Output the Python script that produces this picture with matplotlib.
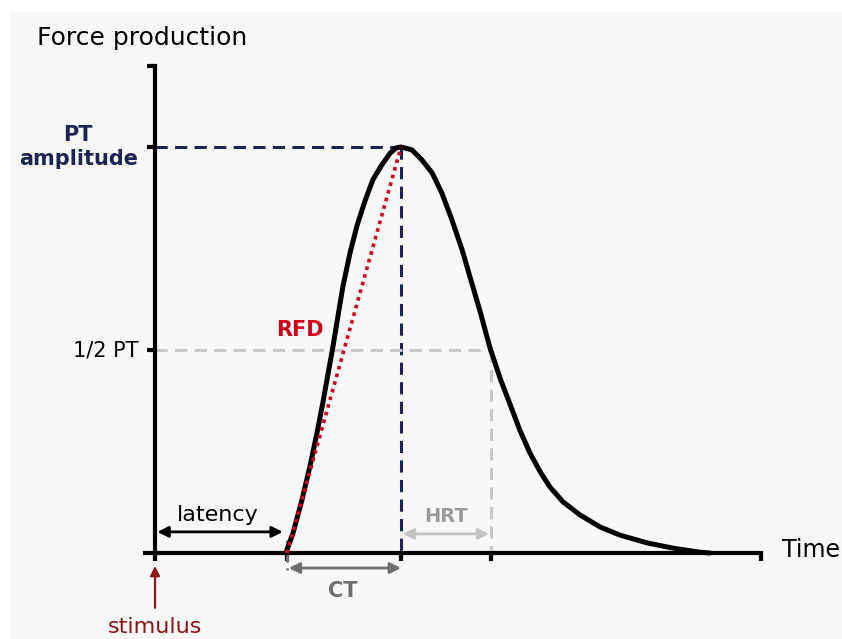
import matplotlib.pyplot as plt
from matplotlib.patches import Rectangle

# twitch force curve (time in ms, force in % of PT)
time_ms = [21.8, 23.0, 24.5, 25.8, 27.0, 28.0, 28.8, 29.7, 30.5, 31.3, 32.5,
           33.7, 35.0, 36.3, 37.8, 39.2, 40.2, 41.0, 42.8, 44.5, 46.2, 47.8,
           49.5, 51.2, 52.5, 54.2, 55.8, 57.5, 59.2, 60.8, 62.5, 64.2, 65.8,
           68.0, 70.8, 74.2, 77.5, 82.0, 86.3, 90.8, 92.5]
force_pct = [0, 4.9, 13.1, 21.2, 29.6, 37.2, 43.8, 51.2, 58.4, 65.5, 73.9,
             80.8, 86.7, 91.9, 95.6, 98.5, 99.8, 100, 99.3, 96.8, 93.6, 88.7,
             82.0, 74.6, 68.0, 59.4, 50.7, 43.1, 36.5, 30.3, 24.6, 20.0, 16.3,
             12.6, 9.4, 6.4, 4.4, 2.5, 1.2, 0.2, 0]

onset = 22
peak_t = 41
half_relax_t = 56
peak = 100
half = 50
t_end = 101
y_top = 120

NAVY = '#1c2453'
RED = '#d0021b'
DARKRED = '#8b1414'

fig = plt.figure(figsize=(8.42, 6.39), dpi=100)
fig.patch.set_facecolor('white')
fig.patches.append(Rectangle((10 / 842, 0), 1, 1 - 12 / 639, transform=fig.transFigure,
                             facecolor='#f8f8f8', edgecolor='none', zorder=-10))
ax = fig.add_axes([0, 0, 1, 1])
ax.set_facecolor('none')
ax.set_xlim(-155 / 6, 687 / 6)
ax.set_ylim(-86 / 4.06, 553 / 4.06)

for s in ['top', 'right']:
    ax.spines[s].set_visible(False)
ax.spines['left'].set_position(('data', 0))
ax.spines['bottom'].set_position(('data', 0))
ax.spines['left'].set_bounds(0, y_top)
ax.spines['bottom'].set_bounds(-1.7, t_end)
for s in ['left', 'bottom']:
    ax.spines[s].set_linewidth(3)
ax.set_xticks([0, onset, peak_t, half_relax_t, t_end])
ax.set_yticks([half, peak, y_top])
ax.set_xticklabels([])
ax.set_yticklabels([])
ax.tick_params(length=6, width=3, color='black')

# reference lines
ax.plot([0, peak_t], [peak, peak], color=NAVY, lw=2.2, dashes=(4, 2.4), zorder=2)
ax.plot([peak_t, peak_t], [peak, 0], color=NAVY, lw=2.2, dashes=(4, 2.4), zorder=2)
ax.plot([0, half_relax_t], [half, half], color='#c8c8c8', lw=2.2, dashes=(4, 2.4), zorder=2)
ax.plot([half_relax_t, half_relax_t], [half, 0], color='#c8c8c8', lw=2.2, dashes=(4, 2.4), zorder=2)
ax.plot([onset, onset], [3.2, -4.2], color='#777777', lw=2, dashes=(3, 2), zorder=2)

# RFD slope
ax.plot([onset, peak_t], [0, peak], color=RED, lw=2.6, linestyle=(0, (1, 1.2)), zorder=4)

# force curve
ax.plot(time_ms, force_pct, color='black', lw=3.6, solid_capstyle='round',
        solid_joinstyle='round', zorder=3)

# interval arrows
def span(x0, x1, y, color):
    ax.annotate('', xy=(x1, y), xytext=(x0, y),
                arrowprops=dict(arrowstyle='<|-|>', color=color, lw=2,
                                mutation_scale=16, shrinkA=0, shrinkB=0))

span(0.4, onset - 0.7, 5.2, 'black')
span(onset + 0.3, peak_t, -3.7, '#6e6e6e')
span(peak_t + 0.3, half_relax_t - 0.3, 4.7, '#c4c4c4')

ax.annotate('', xy=(0, -3.2), xytext=(0, -13.5),
            arrowprops=dict(arrowstyle='-|>', color=DARKRED, lw=1.6,
                            mutation_scale=14, shrinkA=0, shrinkB=0))

# labels
ax.text(-19.7, 126.8, 'Force production', fontsize=18, ha='left', va='center')
ax.text(104.5, 0.7, 'Time', fontsize=17, ha='left', va='center')
ax.text(-2.8, half, '1/2 PT', fontsize=15, ha='right', va='center')
ax.text(-12.8, 100, 'PT\namplitude', fontsize=15, fontweight='bold', color=NAVY,
        ha='center', va='center', linespacing=1.3)
ax.text(24.2, 54.9, 'RFD', fontsize=15, fontweight='bold', color=RED, ha='center', va='center')
ax.text(10.5, 9.4, 'latency', fontsize=16, ha='center', va='center')
ax.text(31.3, -9.4, 'CT', fontsize=15, fontweight='bold', color='#6e6e6e', ha='center', va='center')
ax.text(48.5, 8.9, 'HRT', fontsize=14, fontweight='bold', color='#9a9a9a', ha='center', va='center')
ax.text(0, -18.2, 'stimulus', fontsize=16, color=DARKRED, ha='center', va='center')

fig.savefig('out.png', dpi=100)
